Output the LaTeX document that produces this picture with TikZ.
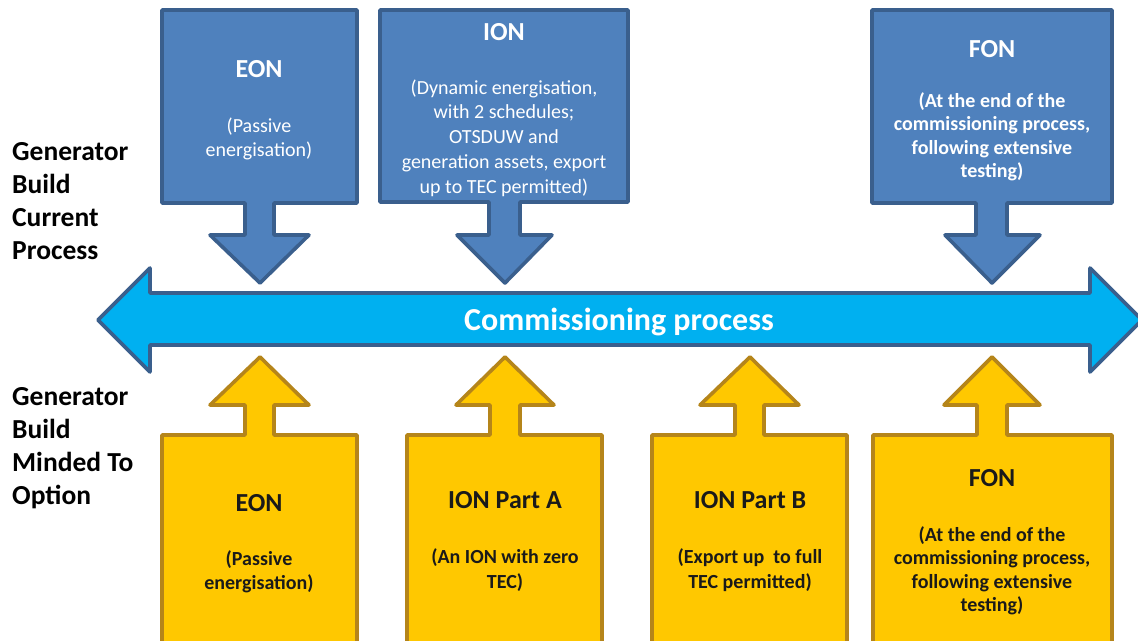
\documentclass[tikz,border=0pt]{standalone}
\usepackage{fontspec}
\setmainfont{Carlito}
\definecolor{boxblue}{HTML}{4F81BD}
\definecolor{edgeblue}{HTML}{3A5F8D}
\definecolor{barblue}{HTML}{00B0F0}
\definecolor{boxyellow}{HTML}{FFC800}
\definecolor{edgeyellow}{HTML}{B5851A}
\definecolor{ink}{HTML}{1A1A1A}
\begin{document}
\begin{tikzpicture}[x=1pt,y=-1pt,
  bluecallout/.style={fill=boxblue,draw=edgeblue,line width=3.6pt,line join=round},
  yellowcallout/.style={fill=boxyellow,draw=edgeyellow,line width=3.6pt,line join=round},
  bar/.style={fill=barblue,draw=edgeblue,line width=3.6pt,line join=round},
  toptitle/.style={anchor=base,inner sep=0pt,text=white,font=\fontsize{26}{31}\selectfont\bfseries},
  topdesc/.style={anchor=center,inner sep=0pt,align=center,text=white,font=\fontsize{20}{24.8}\selectfont},
  topdescb/.style={topdesc,font=\fontsize{20}{23.5}\selectfont\bfseries},
  bottitle/.style={anchor=base,inner sep=0pt,text=ink,font=\fontsize{26}{31}\selectfont\bfseries},
  botdesc/.style={anchor=center,inner sep=0pt,align=center,text=ink,font=\fontsize{20}{24.5}\selectfont\bfseries},
  botdescf/.style={botdesc,font=\fontsize{20}{23.5}\selectfont\bfseries},
  rowlabel/.style={anchor=north west,inner sep=0pt,align=left,text=black,font=\fontsize{27.5}{33}\selectfont\bfseries}]
\useasboundingbox (0,0) rectangle (1138,640);
\fill[white] (0,0) rectangle (1138,640);

% commissioning timeline (double-headed arrow)
\draw[bar] (98,320) -- (150,268) -- (150,293) -- (1090,293) -- (1090,268)
  -- (1142,320) -- (1090,372) -- (1090,345) -- (150,345) -- (150,372) -- cycle;
\node[anchor=base,inner sep=0pt,text=white,font=\fontsize{32}{38}\selectfont\bfseries]
  (timeline) at (619,330) {Commissioning process};

% current process: boxes pointing down onto the timeline
\draw[bluecallout] (162,10) -- (357,10) -- (357,203) -- (274,203) -- (274,235) -- (309,235)
  -- (260,283) -- (210,235) -- (245,235) -- (245,203) -- (162,203) -- cycle;
\draw[bluecallout] (380,10) -- (628,10) -- (628,202) -- (520,202) -- (520,235) -- (552,235)
  -- (505,283) -- (457,235) -- (489,235) -- (489,202) -- (380,202) -- cycle;
\draw[bluecallout] (872,10) -- (1112,10) -- (1112,203) -- (1007,203) -- (1007,235) -- (1040,235)
  -- (992,283) -- (945,235) -- (976,235) -- (976,203) -- (872,203) -- cycle;

\node[toptitle] (eonTop) at (259,77) {EON};
\node[topdesc] (eonTopD) at (259,139) {(Passive\\energisation)};
\node[toptitle] (ionTop) at (504,40) {ION};
\node[topdesc] (ionTopD) at (504,138) {(Dynamic energisation,\\with 2 schedules;\\OTSDUW and\\generation assets, export\\up to TEC permitted)};
\node[toptitle] (fonTop) at (992,57) {FON};
\node[topdescb] (fonTopD) at (992,137) {(At the end of the\\commissioning process,\\following extensive\\testing)};

% minded-to option: boxes pointing up onto the timeline
\draw[yellowcallout] (162,650) -- (162,435) -- (245,435) -- (245,405) -- (210,405) -- (260,357)
  -- (309,405) -- (274,405) -- (274,435) -- (357,435) -- (357,650);
\draw[yellowcallout] (407,650) -- (407,435) -- (490,435) -- (490,405) -- (456,405) -- (505,357)
  -- (554,405) -- (520,405) -- (520,435) -- (602,435) -- (602,650);
\draw[yellowcallout] (652,650) -- (652,435) -- (735,435) -- (735,405) -- (700,405) -- (750,357)
  -- (799,405) -- (764,405) -- (764,435) -- (847,435) -- (847,650);
\draw[yellowcallout] (873,650) -- (873,435) -- (977,435) -- (977,405) -- (944,405) -- (992,357)
  -- (1040,405) -- (1007,405) -- (1007,435) -- (1112,435) -- (1112,650);

\node[bottitle] (eonBot) at (259,511) {EON};
\node[botdesc] (eonBotD) at (259,572) {(Passive\\energisation)};
\node[bottitle] (ionA) at (505,508) {ION Part A};
\node[botdesc] (ionAD) at (505,570) {(An ION with zero\\TEC)};
\node[bottitle] (ionB) at (750,508) {ION Part B};
\node[botdesc] (ionBD) at (750,570) {(Export up\ \ to full\\TEC permitted)};
\node[bottitle] (fonBot) at (992,486) {FON};
\node[botdescf] (fonBotD) at (992,571) {(At the end of the\\commissioning process,\\following extensive\\testing)};

% row labels
\node[rowlabel] (rowCurrent) at (12,142) {Generator\\Build\\Current\\Process};
\node[rowlabel] (rowMinded) at (12,387) {Generator\\Build\\Minded To\\Option};
\end{tikzpicture}
\end{document}
